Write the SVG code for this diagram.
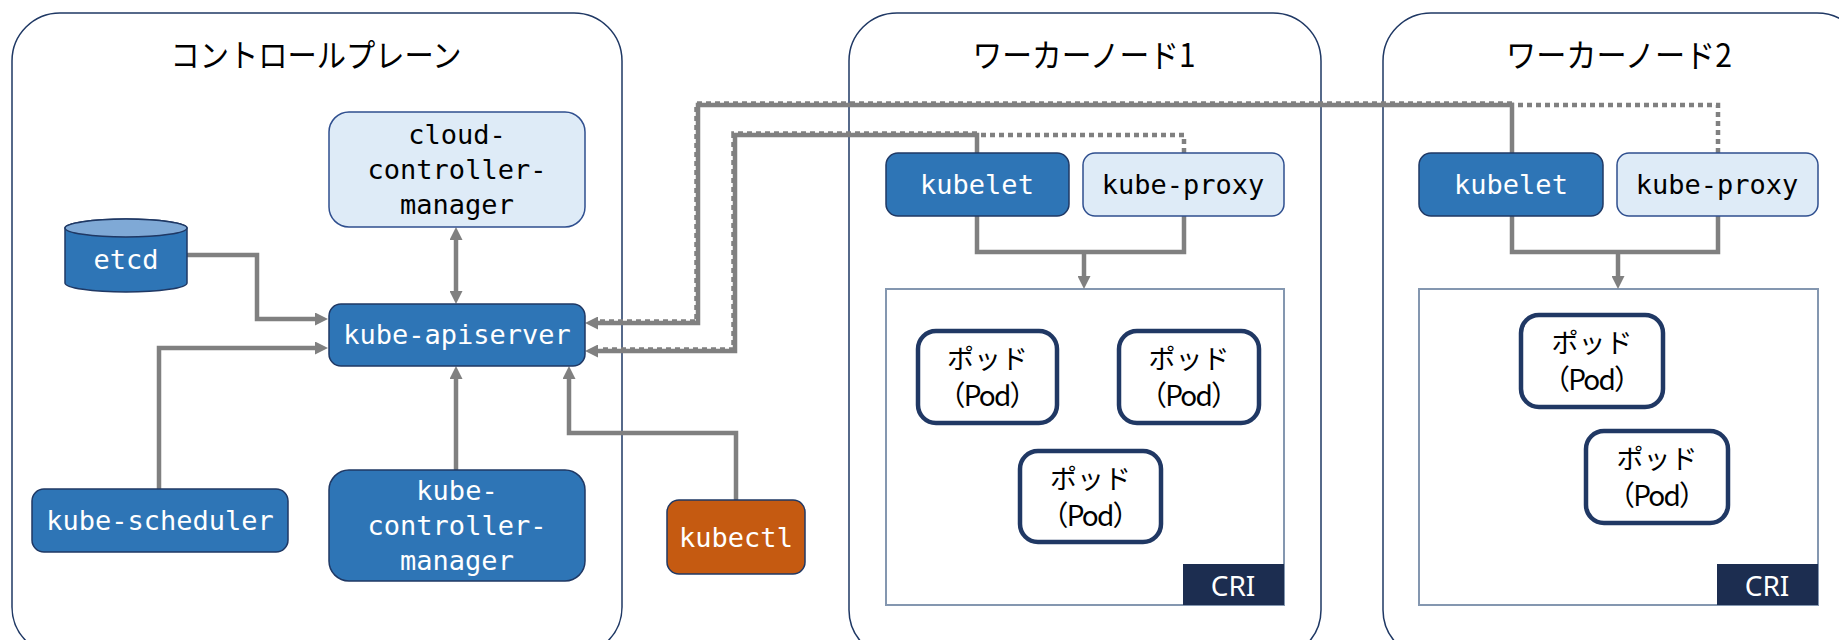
<svg xmlns="http://www.w3.org/2000/svg" width="1839" height="640" viewBox="0 0 1839 640">
<style>
.frame{fill:#fff;stroke:#1F3864;stroke-width:1.5}
.title{font-family:"Noto Sans CJK JP","Noto Sans",sans-serif;font-size:32px;fill:#000;text-anchor:middle}
.dark{fill:#2E75B6;stroke:#1F3864;stroke-width:1.5}
.light{fill:#DEEBF7;stroke:#2F4F8F;stroke-width:1.5}
.orange{fill:#C55A11;stroke:#1F3864;stroke-width:1.5}
.mono{font-family:"DejaVu Sans Mono","Liberation Mono",monospace;font-size:27px;text-anchor:middle}
.w{fill:#fff}
.b{fill:#000}
.cont{fill:#fff;stroke:#8497B0;stroke-width:2}
.cri{fill:#1C2D50}
.critext{font-family:"Noto Sans","Liberation Sans",sans-serif;font-size:28px;fill:#fff;text-anchor:middle}
.pod{fill:#fff;stroke:#203864;stroke-width:4.5}
.podtext{font-family:"Noto Sans CJK JP",sans-serif;font-size:27px;fill:#000;text-anchor:middle}
.podsub{font-family:"Noto Sans CJK JP",sans-serif;font-size:28px;fill:#000;text-anchor:middle}
.ln{fill:none;stroke:#808080;stroke-width:4.5;stroke-linejoin:miter}
.dot{fill:none;stroke:#808080;stroke-width:4.5;stroke-dasharray:5 4}
</style>
<defs>
<marker id="ah" markerUnits="userSpaceOnUse" markerWidth="13" markerHeight="13" refX="5" refY="6.5" orient="auto-start-reverse">
<path d="M0,0 L13,6.5 L0,13 z" fill="#808080"/>
</marker>
</defs>

<g id="control-plane">
<rect class="frame" x="12" y="13" width="610" height="642" rx="48"/>
<text class="title" x="316" y="67" textLength="291" lengthAdjust="spacingAndGlyphs">コントロールプレーン</text>
</g>
<g id="worker-node-1">
<rect class="frame" x="849" y="13" width="472" height="645" rx="48"/>
<text class="title" x="1084" y="67" textLength="223" lengthAdjust="spacingAndGlyphs">ワーカーノード1</text>
</g>
<g id="worker-node-2">
<rect class="frame" x="1383" y="13" width="482" height="645" rx="48"/>
<text class="title" x="1619" y="67" textLength="226" lengthAdjust="spacingAndGlyphs">ワーカーノード2</text>
</g>

<g id="container-1">
<rect class="cont" x="886" y="289" width="398" height="316"/>
<rect class="cri" x="1183" y="564" width="101" height="41"/>
<text class="critext" x="1233" y="596">CRI</text>
</g>
<g id="container-2">
<rect class="cont" x="1419" y="289" width="399" height="316"/>
<rect class="cri" x="1717" y="564" width="101" height="41"/>
<text class="critext" x="1767" y="596">CRI</text>
</g>

<g id="connectors">
<path class="ln" d="M187,255 H257 V319 H320" marker-end="url(#ah)"/>
<path class="ln" d="M456,235 V296" marker-start="url(#ah)" marker-end="url(#ah)"/>
<path class="ln" d="M159,489 V348 H320" marker-end="url(#ah)"/>
<path class="ln" d="M456,470 V374" marker-end="url(#ah)"/>
<path class="ln" d="M736,500 V433 H569 V374" marker-end="url(#ah)"/>
<path class="ln" d="M1512,153 V105 H698 V323 H593" marker-end="url(#ah)"/>
<path class="dot" d="M1718,153 V105 H1512"/>
<path class="dot" d="M1512,103.5 H696.5 V321.5 H600"/>
<path class="ln" d="M977,153 V135 H735 V351 H593" marker-end="url(#ah)"/>
<path class="dot" d="M1184,153 V135 H977"/>
<path class="dot" d="M977,133.5 H733.5 V349.5 H600"/>
<path class="ln" d="M977,216 V252 H1184 V216"/>
<path class="ln" d="M1084,252 V281" marker-end="url(#ah)"/>
<path class="ln" d="M1512,216 V252 H1718 V216"/>
<path class="ln" d="M1618,252 V281" marker-end="url(#ah)"/>
</g>

<g id="cloud-controller-manager">
<rect class="light" x="329" y="112" width="256" height="115" rx="20"/>
<text class="mono b" x="457" y="144">cloud-</text>
<text class="mono b" x="457" y="179">controller-</text>
<text class="mono b" x="457" y="214">manager</text>
</g>
<g id="etcd">
<path class="dark" d="M65,228 V283 A61,9 0 0 0 187,283 V228 A61,9 0 0 0 65,228 z"/>
<ellipse cx="126" cy="228" rx="61" ry="9" fill="#7FA9D6" stroke="#1F3864" stroke-width="1.5"/>
<text class="mono w" x="126" y="269">etcd</text>
</g>
<g id="kube-apiserver">
<rect class="dark" x="329" y="304" width="256" height="62" rx="12"/>
<text class="mono w" x="457" y="344">kube-apiserver</text>
</g>
<g id="kube-scheduler">
<rect class="dark" x="32" y="489" width="256" height="63" rx="12"/>
<text class="mono w" x="160" y="530">kube-scheduler</text>
</g>
<g id="kube-controller-manager">
<rect class="dark" x="329" y="470" width="256" height="111" rx="20"/>
<text class="mono w" x="457" y="500">kube-</text>
<text class="mono w" x="457" y="535">controller-</text>
<text class="mono w" x="457" y="570">manager</text>
</g>
<g id="kubectl">
<rect class="orange" x="667" y="500" width="138" height="74" rx="12"/>
<text class="mono w" x="736" y="547">kubectl</text>
</g>

<g id="kubelet-1">
<rect class="dark" x="886" y="153" width="183" height="63" rx="12"/>
<text class="mono w" x="977" y="194">kubelet</text>
</g>
<g id="kube-proxy-1">
<rect class="light" x="1083" y="153" width="201" height="63" rx="12"/>
<text class="mono b" x="1183" y="194">kube-proxy</text>
</g>
<g id="kubelet-2">
<rect class="dark" x="1419" y="153" width="184" height="63" rx="12"/>
<text class="mono w" x="1511" y="194">kubelet</text>
</g>
<g id="kube-proxy-2">
<rect class="light" x="1617" y="153" width="201" height="63" rx="12"/>
<text class="mono b" x="1717" y="194">kube-proxy</text>
</g>

<g id="pod-1">
<rect class="pod" x="918" y="331" width="139" height="92" rx="18"/>
<text class="podtext" x="987.5" y="369">ポッド</text>
<text class="podsub" x="987.5" y="406" textLength="100" lengthAdjust="spacing">（Pod）</text>
</g>
<g id="pod-2">
<rect class="pod" x="1119" y="331" width="140" height="92" rx="18"/>
<text class="podtext" x="1189" y="369">ポッド</text>
<text class="podsub" x="1189" y="406" textLength="100" lengthAdjust="spacing">（Pod）</text>
</g>
<g id="pod-3">
<rect class="pod" x="1020" y="451" width="141" height="91" rx="18"/>
<text class="podtext" x="1090.5" y="489">ポッド</text>
<text class="podsub" x="1090.5" y="526" textLength="100" lengthAdjust="spacing">（Pod）</text>
</g>
<g id="pod-4">
<rect class="pod" x="1521" y="315" width="142" height="92" rx="18"/>
<text class="podtext" x="1592" y="353">ポッド</text>
<text class="podsub" x="1592" y="390" textLength="100" lengthAdjust="spacing">（Pod）</text>
</g>
<g id="pod-5">
<rect class="pod" x="1586" y="431" width="142" height="92" rx="18"/>
<text class="podtext" x="1657" y="469">ポッド</text>
<text class="podsub" x="1657" y="506" textLength="100" lengthAdjust="spacing">（Pod）</text>
</g>
</svg>
